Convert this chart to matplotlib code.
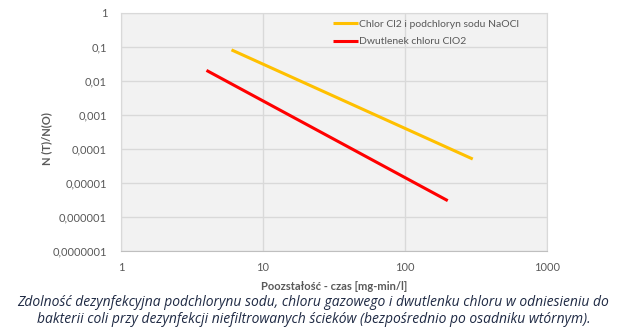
import numpy as np
import matplotlib
matplotlib.use('Agg')
import matplotlib.pyplot as plt
from matplotlib.ticker import FixedLocator, FixedFormatter, NullLocator

# CT value [mg-min/l] vs survival ratio N(T)/N(O)
series_names = ['Chlor Cl2 i podchloryn sodu NaOCl', 'Dwutlenek chloru ClO2']
ct_chlor = [6, 300]
n_chlor = [0.08, 5e-5]
ct_clo2 = [4, 200]
n_clo2 = [0.02, 3e-6]

x_ticks = [1, 10, 100, 1000]
x_labels = ['1', '10', '100', '1000']
y_ticks = [1, 0.1, 0.01, 0.001, 0.0001, 1e-5, 1e-6, 1e-7]
y_labels = ['1', '0,1', '0,01', '0,001', '0,0001', '0,00001', '0,000001', '0,0000001']

caption = ('Zdolność dezynfekcyjna podchlorynu sodu, chloru gazowego i dwutlenku chloru w odniesieniu do\n'
           'bakterii coli przy dezynfekcji niefiltrowanych ścieków (bezpośrednio po osadniku wtórnym).')

plt.rcParams['font.family'] = ['Lato', 'DejaVu Sans']

fig = plt.figure(figsize=(6.27, 3.31), dpi=100)
ax = fig.add_axes([121 / 627, 1 - 251 / 331, 426 / 627, 238.5 / 331])
ax.set_facecolor('#f2f2f2')

ax.plot(ct_chlor, n_chlor, color='#ffc000', lw=2.2, label=series_names[0], solid_capstyle='butt')
ax.plot(ct_clo2, n_clo2, color='#ff0000', lw=2.2, label=series_names[1], solid_capstyle='butt')

ax.set_xscale('log')
ax.set_yscale('log')
ax.set_xlim(1, 1000)
ax.set_ylim(1e-7, 1)
ax.xaxis.set_major_locator(FixedLocator(x_ticks))
ax.xaxis.set_major_formatter(FixedFormatter(x_labels))
ax.xaxis.set_minor_locator(NullLocator())
ax.yaxis.set_major_locator(FixedLocator(y_ticks))
ax.yaxis.set_major_formatter(FixedFormatter(y_labels))
ax.yaxis.set_minor_locator(NullLocator())

ax.grid(True, color='#d9d9d9', lw=1)
ax.set_axisbelow(True)
for side in ['top', 'right', 'left']:
    ax.spines[side].set_color('#d9d9d9')
ax.spines['bottom'].set_color('#bfbfbf')
ax.tick_params(axis='y', length=0, labelsize=8, colors='#595959', pad=10)
ax.tick_params(axis='x', length=0, labelsize=8, colors='#595959', pad=8)

ax.set_xlabel('Poozstałość - czas [mg-min/l]', fontsize=8, fontweight='bold', color='#595959', labelpad=6)
ax.set_ylabel('N (T)/N(O)', fontsize=8, fontweight='bold', color='#595959')
ax.yaxis.set_label_coords(-0.162, 0.47)

leg = ax.legend(loc='upper left', bbox_to_anchor=(0.48, 1.0), frameon=False, fontsize=7.5,
                handlelength=2.4, handletextpad=0.1, labelspacing=0.75, borderaxespad=0.3)
for t in leg.get_texts():
    t.set_color('#595959')

fig.text(0.5, 0.012, caption, ha='center', va='bottom', fontsize=10, style='italic',
         color='#1f2a44', family=['Open Sans', 'DejaVu Sans'], linespacing=1.2)

fig.savefig('out.png', dpi=100, facecolor='white')
